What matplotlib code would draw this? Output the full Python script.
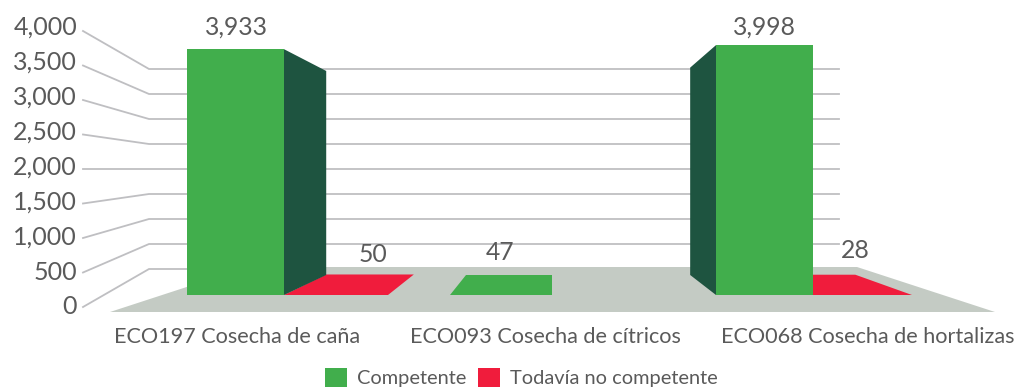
import matplotlib
matplotlib.use('Agg')
import matplotlib.pyplot as plt
from matplotlib.patches import Polygon, Patch

categories = ['ECO197 Cosecha de caña', 'ECO093 Cosecha de cítricos', 'ECO068 Cosecha de hortalizas']
competente = [3933, 47, 3998]
no_competente = [50, 0, 28]
value_labels_comp = ['3,933', '47', '3,998']
value_labels_no = ['50', '', '28']
y_ticks = [0, 500, 1000, 1500, 2000, 2500, 3000, 3500, 4000]
y_tick_labels = ['0', '500', '1,000', '1,500', '2,000', '2,500', '3,000', '3,500', '4,000']
series_names = ['Competente', 'Todavía no competente']

GREEN = '#41ae4c'
DARK = '#1e5440'
RED = '#f01c3c'
FLOOR = '#c4cbc4'
GRID = '#bfbfc2'
TEXT = '#5a5a5a'

plt.rcParams['font.family'] = ['Lato', 'DejaVu Sans']

# 1 value unit = 0.0625 px on the front plane, value 0 sits at pixel row 295
PX = 0.0625
fig = plt.figure(figsize=(10.16, 3.87), dpi=100)
ax = fig.add_axes([0, 0, 1, 1])
ax.set_xlim(0, 1016)
ax.set_ylim((295 - 387) / PX, 295 / PX)
ax.axis('off')


def row(px):
    return (295 - px) / PX


# perspective of the bars: front x -> back x
def back_x(x):
    return 552 + 0.8425 * (x - 552)


def back_y(v):
    return row(275) + 0.83 * v


# back wall grid and the leader lines to the tick labels
for v, lab in zip(y_ticks, y_tick_labels):
    wall = row(269) + 0.8 * v
    left = row(307) + 1.104 * v
    ax.plot([83, 149, 839], [left, wall, wall], color=GRID, lw=1.3, zorder=1, solid_joinstyle='miter')
    ax.text(77, row(307) + 1.12 * v, lab, ha='right', va='center', fontsize=18, color=TEXT)

# floor
ax.add_patch(Polygon([(110, row(312)), (995, row(312)), (857, row(267)), (248, row(267))],
                     fc=FLOOR, ec='none', zorder=2))

green_left = [187, 450, 716]
green_width = [97, 102, 97]
red_width = [104, 0, 99]


def flat(v):
    # the tiny values lie almost flat on the floor
    return v if v > 500 else v * 0.2


for i in range(len(categories)):
    x0 = green_left[i]
    x1 = x0 + green_width[i]
    h = flat(competente[i])
    if competente[i] > 500:
        side = x1 if i == 0 else x0
        ax.add_patch(Polygon([(side, 0), (side, h), (back_x(side), back_y(h)), (back_x(side), back_y(0))],
                             fc=DARK, ec='none', zorder=4))
        ax.add_patch(Polygon([(x0, 0), (x1, 0), (x1, h), (x0, h)], fc=GREEN, ec='none', zorder=5))
    else:
        ax.add_patch(Polygon([(x0, 0), (x1, 0), (back_x(x1), back_y(h)), (back_x(x0), back_y(h))],
                             fc=GREEN, ec='none', zorder=5))
    if no_competente[i] > 0:
        r1 = x1 + red_width[i]
        hr = flat(no_competente[i])
        ax.add_patch(Polygon([(x1, 0), (r1, 0), (back_x(r1), back_y(hr)), (back_x(x1), back_y(hr))],
                             fc=RED, ec='none', zorder=3))

# value labels
label_x_comp = [236, 500, 764]
label_y_comp = [27, 253, 27]
label_x_no = [373, 0, 855]
label_y_no = [255, 0, 251]
for i in range(len(categories)):
    ax.text(label_x_comp[i], row(label_y_comp[i]), value_labels_comp[i], ha='center', va='center',
            fontsize=17.8, color=TEXT, zorder=6)
    if value_labels_no[i]:
        ax.text(label_x_no[i], row(label_y_no[i]), value_labels_no[i], ha='center', va='center',
                fontsize=17.8, color=TEXT, zorder=6)

# category labels
label_x_cat = [237.5, 545, 868]
for x, lab in zip(label_x_cat, categories):
    ax.text(x, row(337), lab, ha='center', va='center', fontsize=15.6, color=TEXT)

handles = [Patch(fc=GREEN, ec='none'), Patch(fc=RED, ec='none')]
ax.legend(handles, series_names, loc='lower left', bbox_to_anchor=(325 / 1016, 0), frameon=False,
          ncol=2, fontsize=14.4, labelcolor=TEXT, handlelength=1.1, handleheight=1.1, handletextpad=0.5,
          columnspacing=0.6, borderpad=0, borderaxespad=0)

fig.savefig('out.png', dpi=100)
